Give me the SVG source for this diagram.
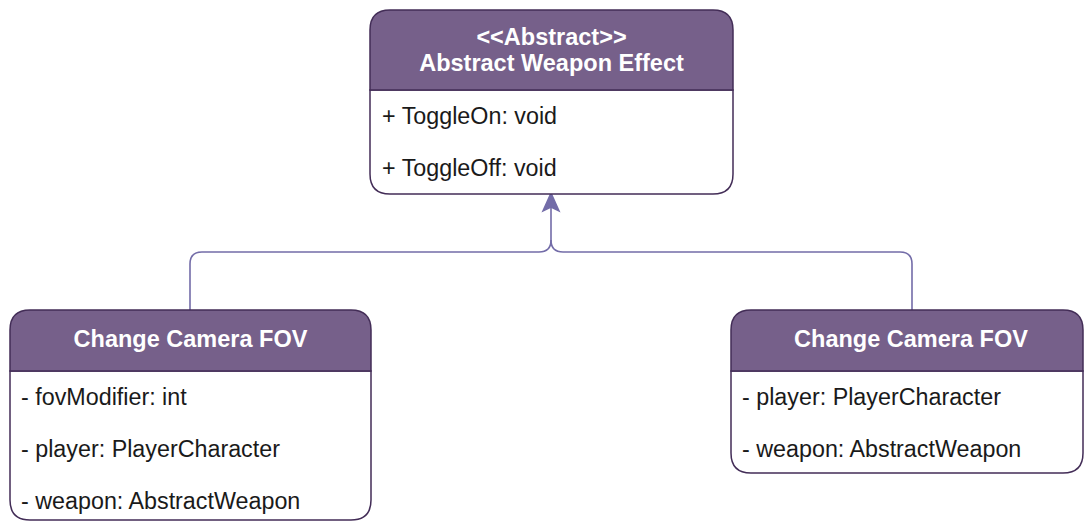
<svg xmlns="http://www.w3.org/2000/svg" width="1084" height="522" viewBox="0 0 1084 522">
<style>
.hdr{fill:#76608a;stroke:#432d57;stroke-width:1.5}
.body{fill:#ffffff;stroke:#432d57;stroke-width:1.5}
.ht{font-family:"Liberation Sans",Arial,sans-serif;font-weight:bold;font-size:23.5px;fill:#ffffff;text-anchor:middle}
.rt{font-family:"Liberation Sans",Arial,sans-serif;font-size:23.3px;fill:#1a1a1a}
.conn{fill:none;stroke:#736ca8;stroke-width:1.6}
</style>
<rect width="1084" height="522" fill="#ffffff"/>
<g id="connectors">
<path class="conn" d="M190,310 V264 Q190,252 202,252 H539 Q551,252 551,240 V206"/>
<path class="conn" d="M912,310 V264 Q912,252 900,252 H563 Q551,252 551,240"/>
<path d="M551,193 L559,211 L551,207 L543,211 Z" fill="#736ca8" stroke="#736ca8" stroke-width="1.5" stroke-linejoin="miter"/>
</g>
<g id="abstract-weapon-effect">
<path class="body" d="M370,90 H733 V174 Q733,194 713,194 H390 Q370,194 370,174 Z"/>
<path class="hdr" d="M370,90 V30 Q370,10 390,10 H713 Q733,10 733,30 V90 Z"/>
<text class="ht" x="551.5" y="45">&lt;&lt;Abstract&gt;&gt;</text>
<text class="ht" x="551.5" y="71">Abstract Weapon Effect</text>
<text class="rt" x="382" y="124">+ ToggleOn: void</text>
<text class="rt" x="382" y="176">+ ToggleOff: void</text>
</g>
<g id="change-camera-fov-left">
<path class="body" d="M10,371 H371 V500 Q371,520 351,520 H30 Q10,520 10,500 Z"/>
<path class="hdr" d="M10,371 V330 Q10,310 30,310 H351 Q371,310 371,330 V371 Z"/>
<text class="ht" x="190.5" y="347">Change Camera FOV</text>
<text class="rt" x="21" y="405">- fovModifier: int</text>
<text class="rt" x="21" y="457">- player: PlayerCharacter</text>
<text class="rt" x="21" y="509">- weapon: AbstractWeapon</text>
</g>
<g id="change-camera-fov-right">
<path class="body" d="M731,371 H1083 V453 Q1083,473 1063,473 H751 Q731,473 731,453 Z"/>
<path class="hdr" d="M731,371 V330 Q731,310 751,310 H1063 Q1083,310 1083,330 V371 Z"/>
<text class="ht" x="911" y="347">Change Camera FOV</text>
<text class="rt" x="742" y="405">- player: PlayerCharacter</text>
<text class="rt" x="742" y="457">- weapon: AbstractWeapon</text>
</g>
</svg>
